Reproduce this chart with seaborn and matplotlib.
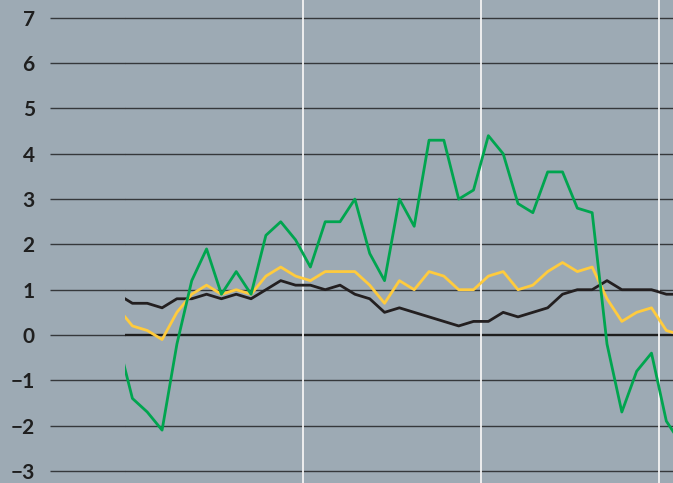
import numpy as np
import pandas as pd
import seaborn as sns
import matplotlib.pyplot as plt

#quarter index, -1 and 37 sit just outside the visible window
t = list(range(-1, 38))

green = [-0.1, -1.4, -1.7, -2.1, -0.2, 1.2, 1.9, 0.9, 1.4, 0.9, 2.2, 2.5, 2.1,
         1.5, 2.5, 2.5, 3.0, 1.8, 1.2, 3.0, 2.4, 4.3, 4.3, 3.0, 3.2,
         4.4, 4.0, 2.9, 2.7, 3.6, 3.6, 2.8, 2.7, -0.2, -1.7, -0.8, -0.4, -1.9, -2.4]
yellow = [0.6, 0.2, 0.1, -0.1, 0.5, 0.9, 1.1, 0.9, 1.0, 0.9, 1.3, 1.5, 1.3,
          1.2, 1.4, 1.4, 1.4, 1.1, 0.7, 1.2, 1.0, 1.4, 1.3, 1.0, 1.0,
          1.3, 1.4, 1.0, 1.1, 1.4, 1.6, 1.4, 1.5, 0.8, 0.3, 0.5, 0.6, 0.1, 0.0]
black = [0.9, 0.7, 0.7, 0.6, 0.8, 0.8, 0.9, 0.8, 0.9, 0.8, 1.0, 1.2, 1.1,
         1.1, 1.0, 1.1, 0.9, 0.8, 0.5, 0.6, 0.5, 0.4, 0.3, 0.2, 0.3,
         0.3, 0.5, 0.4, 0.5, 0.6, 0.9, 1.0, 1.0, 1.2, 1.0, 1.0, 1.0, 0.9, 0.9]

yticks = [-3, -2, -1, 0, 1, 2, 3, 4, 5, 6, 7]
year_breaks = [11.5, 23.5, 35.5]

df = pd.concat([
    pd.DataFrame({'t': t, 'value': black, 'series': 'black'}),
    pd.DataFrame({'t': t, 'value': yellow, 'series': 'yellow'}),
    pd.DataFrame({'t': t, 'value': green, 'series': 'green'}),
])

bg = '#9daab4'
palette = {'black': '#231f20', 'yellow': '#ffcb3d', 'green': '#00a54f'}

sns.set_style('white')
plt.rcParams['font.family'] = ['Lato', 'DejaVu Sans']

fig = plt.figure(figsize=(6.73, 4.83), dpi=100)
fig.patch.set_facecolor(bg)
ax = fig.add_axes([125 / 673, 0, 548 / 673, 1])
ax.set_facecolor(bg)

for y in yticks:
    if y == 0:
        ax.axhline(y, color='#1e1e1e', lw=1.7, zorder=1)
    else:
        ax.axhline(y, color='#35383b', lw=1.0, zorder=1)
for xb in year_breaks:
    ax.axvline(xb, color='#f4f4f4', lw=1.3, zorder=1)

sns.lineplot(data=df, x='t', y='value', hue='series', palette=palette,
             hue_order=['black', 'yellow', 'green'], lw=2.0, legend=False,
             ax=ax, zorder=3)

ax.set_xlim(-0.5, 36.45)
ax.set_ylim(-3.267, 7.395)
ax.set_xticks([])
ax.set_yticks(yticks)
ax.set_yticklabels([str(y).replace('-', '\u2212') for y in yticks])
#long ticks stand in for the gridlines left of the plot area
ax.tick_params(axis='y', length=54, width=1.0, color='#35383b', pad=11,
               labelsize=15, labelcolor='#1f1f1f', left=True)
for lab in ax.get_yticklabels():
    lab.set_fontweight('bold')
for s in ax.spines.values():
    s.set_visible(False)
ax.set_xlabel('')
ax.set_ylabel('')

plt.savefig('out.png', dpi=100, facecolor=bg)
